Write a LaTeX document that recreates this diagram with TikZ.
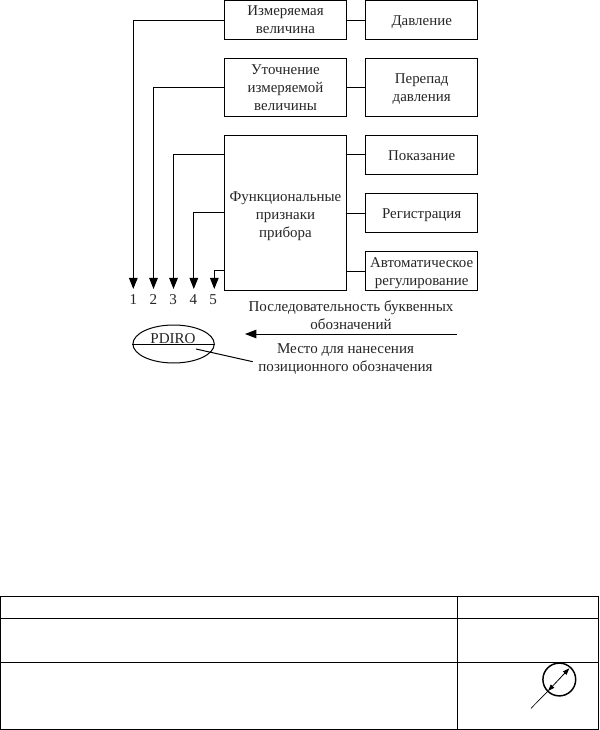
\documentclass[tikz,border=0pt]{standalone}
\usepackage{fontspec}
\setmainfont{Liberation Serif}
\usetikzlibrary{arrows.meta,shapes.geometric}
\tikzset{
 x=0.75pt,y=-0.75pt,
 wire/.style={line width=0.75pt,black},
 boxn/.style={draw,line width=0.75pt,minimum width=0pt,inner sep=0pt,align=center,font=\fontsize{11.2pt}{13.5pt}\selectfont,text=black!85},
 txt/.style={inner sep=0pt,align=center,font=\fontsize{11.3pt}{13.1pt}\selectfont,text=black!85},
 tip/.style={-{Triangle[length=8.25pt,width=6.4pt]},wire},
}
\newcommand{\lowr}[1]{\rule{0pt}{#1pt}}
\begin{document}
\begin{tikzpicture}
\useasboundingbox (0,0) rectangle (599,730);
\fill[white] (0,0) rectangle (599,730);
% left column boxes
\node[boxn,anchor=north west,minimum width=91.5pt,minimum height=29.5pt] (izm) at (224,0) {Измеряемая\\величина};
\node[boxn,anchor=north west,minimum width=91.5pt,minimum height=43.2pt] (uto) at (224,58.2) {Уточнение\\измеряемой\\величины};
\node[boxn,anchor=north west,minimum width=91.5pt,minimum height=116.2pt] (fun) at (224,134.8) {\lowr{12.5}Функциональные\\признаки\\прибора};
% right column boxes
\node[boxn,anchor=north west,minimum width=84pt,minimum height=29.5pt] (dav) at (365.2,0) {\lowr{10}Давление};
\node[boxn,anchor=north west,minimum width=84pt,minimum height=43.2pt] (per) at (365.2,58.2) {\lowr{10}Перепад\\давления};
\node[boxn,anchor=north west,minimum width=84pt,minimum height=29.2pt] (pok) at (365.2,134.8) {\lowr{9}Показание};
\node[boxn,anchor=north west,minimum width=84pt,minimum height=28.7pt] (reg) at (365.2,193.5) {\lowr{10}Регистрация};
\node[boxn,anchor=north west,minimum width=84pt,minimum height=29pt] (avt) at (365.2,251.2) {\lowr{11}Автоматическое\\регулирование};
% horizontal connectors
\draw[wire] (izm.east) -- (dav.west);
\draw[wire] (uto.east) -- (per.west);
\draw[wire] (fun.east |- pok.west) -- (pok.west);
\draw[wire] (fun.east |- reg.west) -- (reg.west);
\draw[wire] (fun.east |- avt.west) -- (avt.west);
% numbers
\node[txt] (n1) at (133.3,300) {1};
\node[txt] (n2) at (153.3,300) {2};
\node[txt] (n3) at (173.2,300) {3};
\node[txt] (n4) at (193.5,300) {4};
\node[txt] (n5) at (213.2,300) {5};
\coordinate (e1) at (133.3,289);
\coordinate (e2) at (153.5,289);
\coordinate (e3) at (173.5,289);
\coordinate (e4) at (193.8,289);
\coordinate (e5) at (214.3,289);
\draw[tip] (izm.west) -| (e1);
\draw[tip] (uto.west) -| (e2);
\draw[tip] (fun.west |- 0,155) -| (e3);
\draw[tip] (fun.west |- 0,213) -| (e4);
\draw[tip] (fun.west |- 0,270.7) -| (e5);
% ellipse
\node[draw,ellipse,line width=0.75pt,minimum width=61pt,minimum height=28.5pt,inner sep=0pt] (ell) at (173.6,344) {};
\draw[wire] (ell.west) -- (ell.east);
\node[txt] (pd) at (173,338.5) {PDIRO};
% texts
\node[txt] (seq) at (351,315) {Последовательность буквенных\\обозначений};
\coordinate (as) at (457,334);
\coordinate (ae) at (245,334);
\draw[-{Triangle[length=8.5pt,width=6.4pt]},wire] (as) -- (ae);
\node[txt] (mes) at (345.5,359) {Место для нанесения\\позиционного обозначения};
\coordinate (ls) at (196,349);
\coordinate (le) at (252.7,361.7);
\draw[wire] (ls) -- (le);
% table
\coordinate (tl) at (0.7,596);
\coordinate (br) at (598,729);
\draw[wire] (tl) rectangle (br);
\draw[wire] (0.7,618) -- (598,618);
\draw[wire] (0.7,662) -- (598,662);
\draw[wire] (457.5,596) -- (457.5,729);
% symbol
\node[draw,circle,line width=1.1pt,minimum size=24.6pt,inner sep=0pt] (c) at (559.3,679.5) {};
\coordinate (p1) at (531,708.3);
\coordinate (p2) at (569.3,668.3);
\coordinate (p3) at (548,691);
\draw[line width=0.5pt] (p1) -- (p3);
\draw[line width=0.6pt,{Triangle[length=5pt,width=3.5pt]}-{Triangle[length=5pt,width=3.5pt]}] (p3) -- (p2);
\end{tikzpicture}
\end{document}
